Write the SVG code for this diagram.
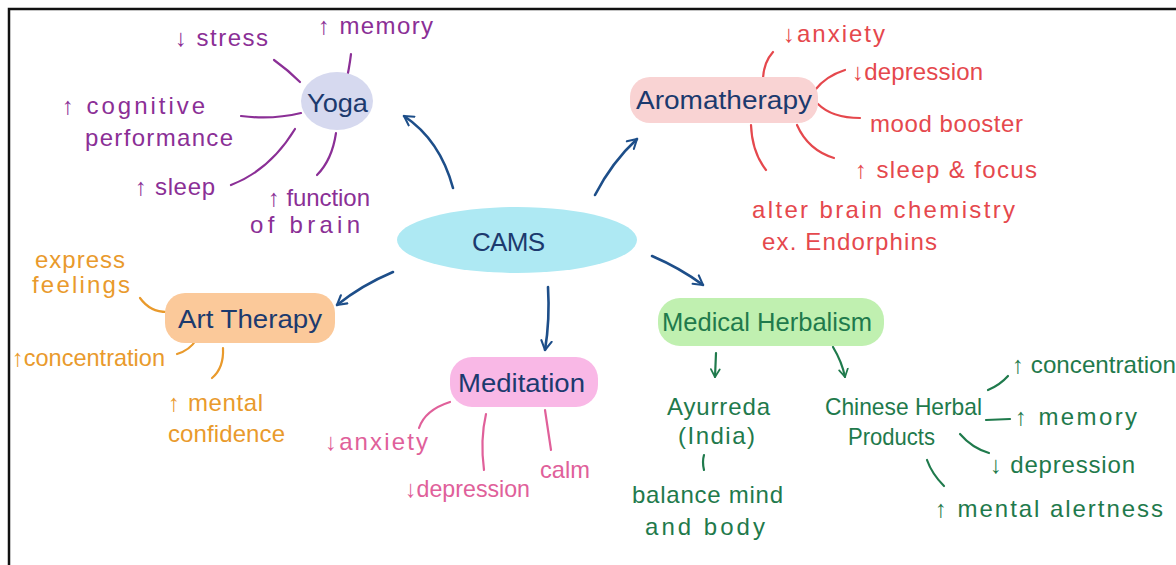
<svg xmlns="http://www.w3.org/2000/svg" width="1176" height="565" viewBox="0 0 1176 565">
<defs>
<marker id="arrBlue" viewBox="0 0 10 10" refX="8" refY="5" markerWidth="5" markerHeight="5" orient="auto" markerUnits="strokeWidth">
<path d="M1,1 L8,5 L1,9" fill="none" stroke="#1d4e89" stroke-width="1.6" stroke-linecap="round" stroke-linejoin="round"/>
</marker>
<marker id="arrGreen" viewBox="0 0 10 10" refX="8" refY="5" markerWidth="5" markerHeight="5" orient="auto" markerUnits="strokeWidth">
<path d="M1,1 L8,5 L1,9" fill="none" stroke="#1f7a4c" stroke-width="1.6" stroke-linecap="round" stroke-linejoin="round"/>
</marker>
</defs>
<style>
text{font-family:"Liberation Sans","Noto Sans",sans-serif;}
.node{fill:#1c3a6e;font-size:26px;}
.leaf{font-size:24px;}
.yoga{fill:#8b2f96;}
.aroma{fill:#e5484d;}
.art{fill:#e99a2c;}
.med{fill:#e0609a;}
.herb{fill:#1f7a4c;}
.c{fill:none;stroke-width:2.2;stroke-linecap:round;}
.cb{stroke:#1d4e89;stroke-width:2.6;}
.cy{stroke:#8b2f96;}
.ca{stroke:#e5484d;}
.co{stroke:#e99a2c;}
.cm{stroke:#e0609a;}
.cg{stroke:#1f7a4c;}
</style>
<rect x="0" y="0" width="1176" height="565" fill="#ffffff"/>
<path d="M9,565 L9,9 L1176,9" fill="none" stroke="#111111" stroke-width="2.5"/>

<g id="connectors">
<path class="c cb" d="M453,188 Q440,140 404,116" marker-end="url(#arrBlue)"/>
<path class="c cb" d="M595,195 Q612,162 637,139" marker-end="url(#arrBlue)"/>
<path class="c cb" d="M393,272 Q362,285 337,305" marker-end="url(#arrBlue)"/>
<path class="c cb" d="M548,287 Q550,320 545,350" marker-end="url(#arrBlue)"/>
<path class="c cb" d="M652,256 Q680,268 703,285" marker-end="url(#arrBlue)"/>
<path class="c cg" d="M716,353 L715,377" marker-end="url(#arrGreen)"/>
<path class="c cg" d="M833,347 Q842,362 845,377" marker-end="url(#arrGreen)"/>

<path class="c cy" d="M274,60 Q288,70 300,82"/>
<path class="c cy" d="M351,54 Q349,70 346,82"/>
<path class="c cy" d="M241,116 Q272,120 301,113"/>
<path class="c cy" d="M231,185 Q270,170 295,129"/>
<path class="c cy" d="M317,175 Q332,160 336,133"/>

<path class="c ca" d="M763,78 Q764,62 773,52"/>
<path class="c ca" d="M815,90 Q826,76 845,70"/>
<path class="c ca" d="M818,104 Q832,118 860,118"/>
<path class="c ca" d="M797,125 Q808,150 834,158"/>
<path class="c ca" d="M751,125 Q752,152 766,170"/>

<path class="c co" d="M140,298 Q150,312 167,312"/>
<path class="c co" d="M177,354 Q190,350 196,340"/>
<path class="c co" d="M223,348 Q224,368 212,378"/>

<path class="c cm" d="M450,402 Q425,410 419,428"/>
<path class="c cm" d="M486,414 Q480,440 484,470"/>
<path class="c cm" d="M545,410 Q548,430 551,450"/>

<path class="c cg" d="M704,455 Q702,462 704,470"/>
<path class="c cg" d="M988,390 Q1000,385 1008,376"/>
<path class="c cg" d="M986,420 L1010,419"/>
<path class="c cg" d="M960,434 Q972,448 989,453"/>
<path class="c cg" d="M927,460 Q932,474 944,486"/>
</g>

<g id="cams">
<ellipse cx="517" cy="240" rx="120" ry="33" fill="#aee9f3"/>
<text class="node" x="472" y="251" textLength="73" lengthAdjust="spacing" font-size="28">CAMS</text>
</g>

<g id="yoga">
<ellipse cx="337" cy="101" rx="36" ry="29" fill="#d6d9ef"/>
<text class="node" x="307" y="112" textLength="61" lengthAdjust="spacingAndGlyphs">Yoga</text>
<text class="leaf yoga" x="175" y="46" textLength="93" lengthAdjust="spacing">↓ stress</text>
<text class="leaf yoga" x="318" y="34" textLength="115" lengthAdjust="spacing">↑ memory</text>
<text class="leaf yoga" x="62" y="114" textLength="143" lengthAdjust="spacing">↑ cognitive</text>
<text class="leaf yoga" x="85" y="146" textLength="148" lengthAdjust="spacing">performance</text>
<text class="leaf yoga" x="135" y="195" textLength="80" lengthAdjust="spacing">↑ sleep</text>
<text class="leaf yoga" x="268" y="206" textLength="102" lengthAdjust="spacing">↑ function</text>
<text class="leaf yoga" x="250" y="233" textLength="110" lengthAdjust="spacing">of brain</text>
</g>

<g id="aromatherapy">
<rect x="630" y="77" width="188" height="46" rx="20" fill="#f9d3d3"/>
<text class="node" x="636" y="109" textLength="176" lengthAdjust="spacingAndGlyphs">Aromatherapy</text>
<text class="leaf aroma" x="783" y="42" textLength="102" lengthAdjust="spacing">↓anxiety</text>
<text class="leaf aroma" x="852" y="80" textLength="131" lengthAdjust="spacing">↓depression</text>
<text class="leaf aroma" x="870" y="132" textLength="153" lengthAdjust="spacing">mood booster</text>
<text class="leaf aroma" x="855" y="178" textLength="182" lengthAdjust="spacing">↑ sleep &amp; focus</text>
<text class="leaf aroma" x="752" y="218" textLength="263" lengthAdjust="spacing">alter brain chemistry</text>
<text class="leaf aroma" x="762" y="250" textLength="175" lengthAdjust="spacing">ex. Endorphins</text>
</g>

<g id="art-therapy">
<rect x="165" y="293" width="170" height="50" rx="20" fill="#fbc99a"/>
<text class="node" x="178" y="328" textLength="144" lengthAdjust="spacingAndGlyphs">Art Therapy</text>
<text class="leaf art" x="35" y="268" textLength="90" lengthAdjust="spacing">express</text>
<text class="leaf art" x="32" y="293" textLength="98" lengthAdjust="spacing">feelings</text>
<text class="leaf art" x="12" y="366" textLength="153" lengthAdjust="spacingAndGlyphs">↑concentration</text>
<text class="leaf art" x="168" y="411" textLength="95" lengthAdjust="spacing">↑ mental</text>
<text class="leaf art" x="168" y="442" textLength="117" lengthAdjust="spacing">confidence</text>
</g>

<g id="meditation">
<rect x="450" y="357" width="148" height="50" rx="22" fill="#f9b8e6"/>
<text class="node" x="458" y="392" textLength="127" lengthAdjust="spacingAndGlyphs">Meditation</text>
<text class="leaf med" x="325" y="450" textLength="103" lengthAdjust="spacing">↓anxiety</text>
<text class="leaf med" x="405" y="497" textLength="125" lengthAdjust="spacingAndGlyphs">↓depression</text>
<text class="leaf med" x="540" y="478" textLength="50" lengthAdjust="spacingAndGlyphs">calm</text>
</g>

<g id="medical-herbalism">
<rect x="658" y="298" width="226" height="48" rx="22" fill="#c0f0b0"/>
<text class="node" x="662" y="331" textLength="210" lengthAdjust="spacingAndGlyphs" style="fill:#1f7a4c">Medical Herbalism</text>
</g>

<g id="ayurveda">
<text class="leaf herb" x="667" y="415" textLength="103" lengthAdjust="spacing">Ayurreda</text>
<text class="leaf herb" x="678" y="444" textLength="77" lengthAdjust="spacing">(India)</text>
<text class="leaf herb" x="632" y="503" textLength="151" lengthAdjust="spacing">balance mind</text>
<text class="leaf herb" x="645" y="535" textLength="120" lengthAdjust="spacing">and body</text>
</g>

<g id="chinese-herbal">
<text class="leaf herb" x="825" y="415" textLength="157" lengthAdjust="spacingAndGlyphs">Chinese Herbal</text>
<text class="leaf herb" x="848" y="445" textLength="87" lengthAdjust="spacingAndGlyphs">Products</text>
<text class="leaf herb" x="1012" y="373" textLength="164" lengthAdjust="spacingAndGlyphs">↑ concentration</text>
<text class="leaf herb" x="1015" y="425" textLength="122" lengthAdjust="spacing">↑ memory</text>
<text class="leaf herb" x="990" y="473" textLength="145" lengthAdjust="spacing">↓ depression</text>
<text class="leaf herb" x="935" y="517" textLength="228" lengthAdjust="spacing">↑ mental alertness</text>
</g>
</svg>
